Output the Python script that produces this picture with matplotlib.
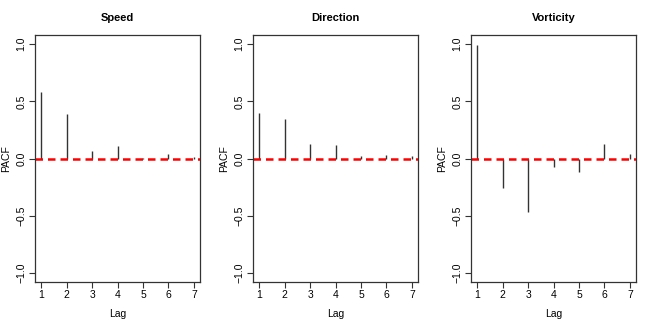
import numpy as np
import matplotlib
matplotlib.use('agg')
import matplotlib.pyplot as plt

plt.rcParams['font.family'] = ['Liberation Sans', 'DejaVu Sans']

# PACF values, lags 1..7
lags = [1, 2, 3, 4, 5, 6, 7]
titles = ['Speed', 'Direction', 'Vorticity']
speed_pacf = [0.585, 0.39, 0.068, 0.108, 0.004, 0.04, 0.01]
direction_pacf = [0.40, 0.345, 0.13, 0.12, 0.025, 0.03, 0.025]
vorticity_pacf = [0.995, -0.26, -0.465, -0.07, -0.114, 0.125, 0.04]
ci_level = 0.0

series = [speed_pacf, direction_pacf, vorticity_pacf]

fig = plt.figure(figsize=(6.54, 3.27), dpi=100)
lefts = [35 / 654, 253 / 654, 471 / 654]
for num, vals in enumerate(series):
    ax = fig.add_axes([lefts[num], 1 - 282 / 327, 165 / 654, 247 / 327])
    ax.vlines(lags, 0, vals, color='#333333', lw=1)
    ax.axhline(ci_level, color='red', lw=1.8, ls=(0, (3, 2)))
    ax.set_xlim(0.76, 7.24)
    ax.set_ylim(-1.08, 1.08)
    ax.set_xticks(lags)
    ax.set_yticks([-1.0, -0.5, 0.0, 0.5, 1.0])
    ax.set_yticklabels(['\u22121.0', '\u22120.5', '0.0', '0.5', '1.0'],
                       rotation=90, va='center')
    ax.tick_params(direction='out', length=4, width=0.8, labelsize=7.5,
                   color='#333333', pad=2)
    for s in ax.spines.values():
        s.set_color('#333333')
        s.set_linewidth(0.9)
    ax.set_title(titles[num], fontsize=8, fontweight='bold', pad=10)
    ax.set_xlabel('Lag', fontsize=7.5, labelpad=6)
    ax.set_ylabel('PACF', fontsize=7.5, labelpad=4)

fig.savefig('out.png', dpi=100)
